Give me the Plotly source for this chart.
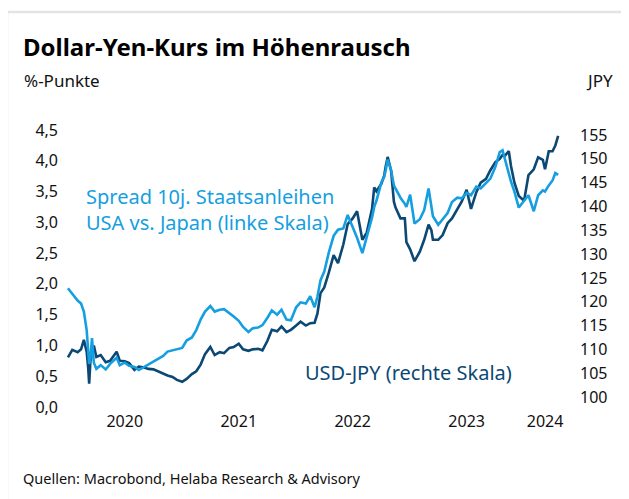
import plotly.graph_objects as go

# ---- data ----
dates = [
    "2020-01-01", "2020-01-15", "2020-02-01", "2020-02-12", "2020-02-21", "2020-03-01",
    "2020-03-06", "2020-03-09", "2020-03-13", "2020-03-18", "2020-03-24", "2020-04-01",
    "2020-04-15", "2020-05-01", "2020-05-15", "2020-06-05", "2020-06-15", "2020-07-01",
    "2020-07-15", "2020-08-01", "2020-08-15", "2020-09-01", "2020-09-15", "2020-10-01",
    "2020-10-15", "2020-11-01", "2020-11-15", "2020-12-01", "2020-12-15", "2021-01-01",
    "2021-01-15", "2021-02-01", "2021-02-15", "2021-03-01", "2021-03-15", "2021-04-01",
    "2021-04-15", "2021-05-01", "2021-05-15", "2021-06-01", "2021-06-15", "2021-07-01",
    "2021-07-15", "2021-08-01", "2021-08-15", "2021-09-01", "2021-09-15", "2021-10-01",
    "2021-10-15", "2021-11-01", "2021-11-15", "2021-12-01", "2021-12-15", "2022-01-01",
    "2022-01-15", "2022-02-01", "2022-02-15", "2022-03-01", "2022-03-10", "2022-03-20",
    "2022-04-01", "2022-04-15", "2022-05-01", "2022-05-15", "2022-06-01", "2022-06-15",
    "2022-07-01", "2022-07-15", "2022-08-01", "2022-08-15", "2022-09-01", "2022-09-08",
    "2022-09-15", "2022-10-01", "2022-10-10", "2022-10-15", "2022-10-21", "2022-11-01",
    "2022-11-10", "2022-11-15", "2022-12-01", "2022-12-15", "2022-12-20", "2023-01-01",
    "2023-01-15", "2023-02-01", "2023-02-15", "2023-03-01", "2023-03-10", "2023-03-15",
    "2023-04-01", "2023-04-15", "2023-05-01", "2023-05-15", "2023-06-01", "2023-06-15",
    "2023-07-01", "2023-07-15", "2023-08-01", "2023-08-15", "2023-09-01", "2023-09-15",
    "2023-10-01", "2023-10-15", "2023-10-24", "2023-11-01", "2023-11-13", "2023-11-20",
    "2023-12-01", "2023-12-15", "2024-01-01", "2024-01-15", "2024-02-01", "2024-02-15",
    "2024-03-01", "2024-03-08", "2024-03-20", "2024-04-01", "2024-04-10", "2024-04-19",
]

spread_10y = [
    1.93, 1.84, 1.73, 1.68, 1.55, 1.25,
    0.98, 0.70, 0.78, 1.12, 0.72, 0.62,
    0.68, 0.61, 0.70, 0.80, 0.68, 0.72,
    0.67, 0.65, 0.60, 0.65, 0.68, 0.74,
    0.78, 0.83, 0.90, 0.92, 0.93, 0.96,
    1.08, 1.13, 1.25, 1.42, 1.55, 1.64,
    1.55, 1.58, 1.59, 1.53, 1.47, 1.40,
    1.30, 1.22, 1.28, 1.29, 1.33, 1.45,
    1.57, 1.50, 1.58, 1.42, 1.41, 1.62,
    1.70, 1.68, 1.80, 1.62, 1.79, 2.06,
    2.20, 2.50, 2.78, 2.88, 2.90, 3.12,
    2.93, 2.75, 2.50, 2.75, 3.08, 3.25,
    3.35, 3.65, 3.74, 3.85, 4.02, 3.85,
    3.60, 3.55, 3.40, 3.30, 3.25, 3.45,
    2.98, 3.05, 3.20, 3.55, 3.30, 3.10,
    2.96, 3.05, 3.15, 3.33, 3.40, 3.39,
    3.48, 3.44, 3.58, 3.55, 3.64, 3.71,
    3.90, 4.14, 4.17, 4.02, 3.75, 3.66,
    3.50, 3.24, 3.35, 3.44, 3.18, 3.44,
    3.52, 3.50, 3.60, 3.68, 3.80, 3.77,
]

usd_jpy = [
    108.3, 109.9, 109.4, 110.0, 112.0, 109.5,
    106.0, 102.8, 107.5, 109.0, 110.8, 108.4,
    108.8, 107.3, 107.6, 109.5, 107.6, 107.5,
    107.1, 105.7, 106.4, 106.2, 105.9, 105.8,
    105.4, 104.8, 104.5, 104.2, 103.6, 103.2,
    103.8, 104.8, 105.4, 106.8, 109.0, 110.5,
    108.8, 109.4, 109.2, 110.3, 110.5, 111.2,
    110.0, 109.7, 110.0, 110.1, 109.8, 111.8,
    114.1, 113.8, 114.8, 113.6, 114.1, 115.0,
    115.8, 115.0, 115.5, 115.6, 117.5, 121.8,
    123.0, 126.0, 129.8, 128.1, 132.0, 136.3,
    137.5, 139.0, 133.0, 134.5, 139.5, 144.0,
    143.2, 144.8, 146.5, 148.5, 150.4, 147.5,
    141.0, 139.8, 137.5, 137.5, 132.5, 131.0,
    128.5, 130.5, 133.0, 136.2, 135.0, 133.0,
    133.0, 134.0, 136.5, 137.5, 139.6, 141.0,
    143.5, 139.5, 143.0, 145.0, 145.8, 147.6,
    149.3, 150.0, 150.8, 150.7, 151.6, 148.5,
    145.0, 142.2, 141.2, 146.6, 147.8, 150.3,
    149.8, 147.8, 151.6, 151.6, 152.8, 154.8,
]

year_tick_dates = ["2020-07-01", "2021-07-01", "2022-07-01", "2023-07-01", "2024-03-08"]
year_tick_labels = ["2020", "2021", "2022", "2023", "2024"]
left_ticks = [0.0, 0.5, 1.0, 1.5, 2.0, 2.5, 3.0, 3.5, 4.0, 4.5]
right_ticks = [100, 105, 110, 115, 120, 125, 130, 135, 140, 145, 150, 155]

# ---- style ----
LIGHT = "#159fe0"
DARK = "#0b4874"
FONT = "Noto Sans"
W, H = 629, 499
OFF = 8  # page body margin offset
# plot area in page pixels: left 62, right 570, top 125, bottom 415
ML = 62 - OFF
MT = 125 - OFF
PW, PH = 508, 290
MR = W - ML - PW
MB = H - MT - PH


def px(x):
    """page x pixel -> paper coordinate"""
    return (x - OFF - ML) / PW


def py(y):
    """page y pixel -> paper coordinate"""
    return (MT + PH - (y - OFF)) / PH


fig = go.Figure()
fig.add_trace(go.Scatter(x=dates, y=usd_jpy, mode="lines", yaxis="y",
                         line=dict(color=DARK, width=2.6), showlegend=False,
                         hoverinfo="skip"))
fig.add_trace(go.Scatter(x=dates, y=spread_10y, mode="lines", yaxis="y2",
                         line=dict(color=LIGHT, width=2.6), showlegend=False,
                         hoverinfo="skip"))

fig.update_layout(
    width=W, height=H,
    margin=dict(l=ML, r=MR, t=MT, b=MB),
    paper_bgcolor="white", plot_bgcolor="white",
    separators=",.",
    font=dict(family=FONT, size=16, color="#111111"),
    xaxis=dict(
        range=["2019-12-13", "2024-05-27"], showgrid=False, zeroline=False,
        showline=False, ticks="", tickmode="array", tickvals=year_tick_dates,
        ticktext=year_tick_labels, tickfont=dict(size=16, color="#111111"),
        ticklabelstandoff=-5,
    ),
    yaxis=dict(
        side="right", range=[96.22, 157.1], showgrid=False, zeroline=False,
        showline=False, ticks="", tickmode="array", tickvals=right_ticks,
        tickfont=dict(size=16, color="#111111"), ticklabelstandoff=9,
    ),
    yaxis2=dict(
        side="left", overlaying="y", range=[-0.13, 4.581], showgrid=False,
        zeroline=False, showline=False, ticks="", tickmode="array",
        tickvals=left_ticks, tickformat=".1f",
        tickfont=dict(size=16, color="#111111"), ticklabelstandoff=3,
    ),
)

fig.add_shape(type="rect", xref="paper", yref="paper",
              x0=px(7), x1=px(660), y0=py(540), y1=py(12),
              line=dict(color="#e4e4e4", width=2.5), fillcolor="rgba(0,0,0,0)",
              layer="below")

ann = [
    dict(text="<b>Dollar-Yen-Kurs im Höhenrausch</b>", x=px(21), y=py(47),
         xanchor="left", yanchor="middle", font=dict(size=24, color="#000000")),
    dict(text="%-Punkte", x=px(22), y=py(81), xanchor="left", yanchor="middle",
         font=dict(size=17, color="#111111")),
    dict(text="JPY", x=px(615), y=py(81), xanchor="right", yanchor="middle",
         font=dict(size=17, color="#111111")),
    dict(text="Spread 10j. Staatsanleihen<br>USA vs. Japan (linke Skala)",
         x=px(84), y=py(209), xanchor="left", yanchor="middle", align="left",
         font=dict(size=20, color=LIGHT)),
    dict(text="USD-JPY (rechte Skala)", x=px(303), y=py(372), xanchor="left",
         yanchor="middle", font=dict(size=20, color=DARK)),
    dict(text="Quellen: Macrobond, Helaba Research &amp; Advisory", x=px(21),
         y=py(478), xanchor="left", yanchor="middle",
         font=dict(size=14.5, color="#111111")),
]
for a in ann:
    fig.add_annotation(xref="paper", yref="paper", showarrow=False, **a)

fig.write_html("out.html")
